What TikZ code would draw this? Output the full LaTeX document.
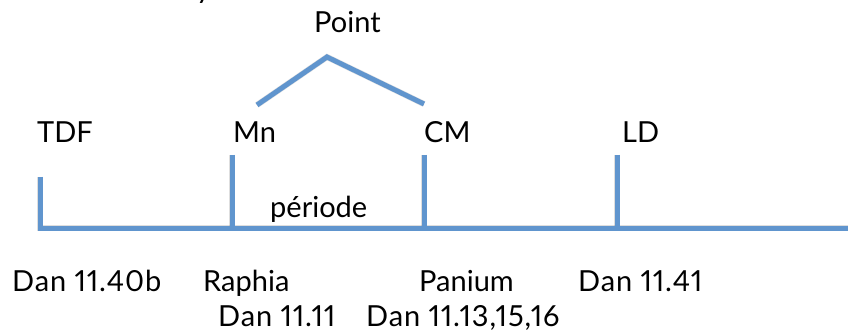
\documentclass[tikz,border=0pt]{standalone}
\usepackage{fontspec}
\setmainfont{Lato}[Numbers=Proportional]
\newfontfamily\danfont{Lato}[Numbers=Proportional,LetterSpace=3]
\definecolor{lineblue}{RGB}{96,149,206}
\begin{document}
\begin{tikzpicture}[x=1pt,y=-1pt,
  bar/.style={draw=lineblue,line width=5pt},
  barshadow/.style={draw=black,opacity=0.13,line width=6pt},
  lbl/.style={anchor=base west,inner sep=0pt,font=\fontsize{29}{34}\selectfont},
  ref/.style={lbl,font=\fontsize{29}{34}\danfont}]
\useasboundingbox (0,0) rectangle (848,331);
\clip (0,0) rectangle (848,331);
% key points
\coordinate (t0top) at (40,177);
\coordinate (t0bot) at (40,228);
\coordinate (tend) at (852,228);
\coordinate (t1top) at (232,155);
\coordinate (t1bot) at (232,228);
\coordinate (t2top) at (424,155);
\coordinate (t2bot) at (424,228);
\coordinate (t3top) at (617,155);
\coordinate (t3bot) at (617,228);
\coordinate (vl) at (257,105);
\coordinate (va) at (327,57);
\coordinate (vr) at (424,104);
% shadows
\begin{scope}[shift={(1.5,3)}]
  \draw[barshadow] (t0top) -- (t0bot) -- (tend);
  \draw[barshadow] (t1top) -- (t1bot);
  \draw[barshadow] (t2top) -- (t2bot);
  \draw[barshadow] (t3top) -- (t3bot);
  \draw[barshadow] (vl) -- (va) -- (vr);
\end{scope}
% lines
\draw[bar] (t0top) -- (t0bot) -- (tend);
\draw[bar] (t1top) -- (t1bot);
\draw[bar] (t2top) -- (t2bot);
\draw[bar] (t3top) -- (t3bot);
\draw[bar] (vl) -- (va) -- (vr);
% labels
\node[lbl] (frag) at (196,-1) {y};
\node[lbl] (point) at (314,33) {Point};
\node[lbl] (tdf) at (37,143) {TDF};
\node[lbl] (mn) at (233,143) {Mn};
\node[lbl] (cm) at (424,143) {CM};
\node[lbl] (ld) at (622,143) {LD};
\node[lbl] (periode) at (270,218) {période};
\node[ref] (dan40b) at (12,291) {Dan 11.40b};
\node[lbl] (raphia) at (203,291) {Raphia};
\node[lbl] (panium) at (419,291) {Panium};
\node[ref] (dan41) at (578,291) {Dan 11.41};
\node[ref] (dan11) at (218,326) {Dan 11.11};
\node[ref] (dan13) at (366,326) {Dan 11.13,15,16};
\end{tikzpicture}
\end{document}
